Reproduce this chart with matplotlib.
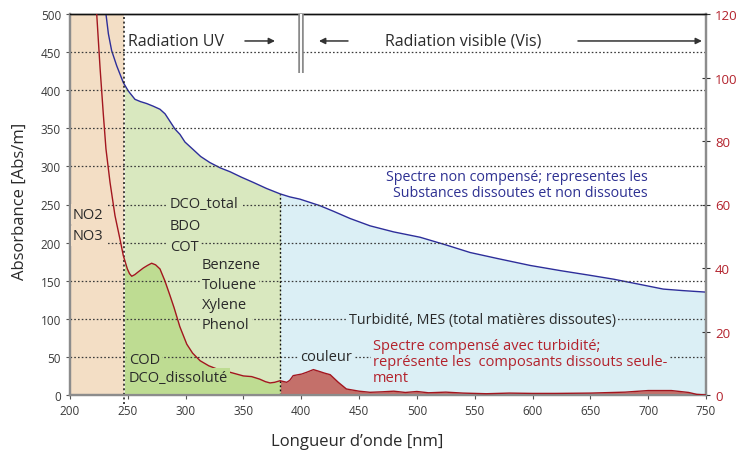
import matplotlib
matplotlib.use("Agg")
import matplotlib.pyplot as plt
import numpy as np

plt.rcParams['font.family'] = ['Open Sans', 'DejaVu Sans']

# ---------------- data ----------------
blue_nm = [231.1, 233.2, 236, 240.4, 246.1, 250.4, 256.2, 261, 266.3, 272, 277.8, 282.2,
           286.5, 290.8, 295.1, 299.4, 306.6, 313, 321, 330, 338.4, 348, 358.5, 370,
           381.6, 390, 398.9, 407, 416.2, 428, 442.1, 459.5, 480, 502.8, 525, 546, 570,
           598, 625, 650, 670, 690, 713, 730, 750]
blue_abs = [500, 474, 452, 432, 410, 399, 388, 385, 382.5, 379, 375, 369,
            359, 349, 342, 332, 322, 313, 305, 298, 293, 286, 279, 271,
            264, 260, 257, 253, 248.4, 241, 231.7, 222, 214, 207, 197, 187, 179,
            170, 163, 157, 152, 146, 139, 137, 135]

red_nm = [223.1, 226, 228.8, 231.1, 234.6, 238.9, 243.2, 246.1, 249.6, 251.5, 253.4, 256,
          259.1, 263.4, 267, 270.6, 274, 277.8, 282, 286.5, 290, 295, 301, 306, 312.5,
          320, 327, 335, 344, 350, 357, 364, 369, 373, 377, 381.7, 387.4, 390, 393,
          400.4, 405, 410.5, 415, 420, 425, 432, 439, 450, 459.5, 470, 480, 490, 500,
          510, 525, 540, 560, 580, 600, 620, 650, 680, 700, 720, 735, 742, 750]
red_abs = [120, 103, 88.5, 77.5, 67, 56.5, 49.1, 43.9, 39.7, 38.2, 37.4, 37.9,
           38.8, 40, 40.8, 41.5, 41, 39.7, 36, 31.3, 27.5, 21.5, 16, 13.2, 10.8,
           9.2, 8.2, 7.5, 6.6, 6.0, 5.8, 5.0, 4.2, 3.8, 4.0, 4.5, 4.0, 4.6, 6.1,
           6.6, 7.2, 8.0, 7.5, 6.9, 6.4, 4.0, 1.9, 1.2, 0.85, 1.0, 1.2, 0.8, 1.1,
           0.7, 0.9, 0.6, 0.4, 0.6, 0.5, 0.5, 0.6, 0.9, 1.4, 1.4, 0.8, 0.2, 0.0]

x_ticks = list(range(200, 751, 50))
left_ticks = list(range(0, 501, 50))
right_ticks = list(range(0, 121, 20))
uv_limit = 247
zone_limit = 382
vis_limit = 400

# ---------------- colours ----------------
c_beige = '#F3DEC5'
c_lgreen = '#D9E8BF'
c_dgreen = '#BEDC92'
c_lblue = '#DBEFF5'
c_dred = '#C4706A'
c_redline = '#A3161F'
c_blueline = '#2D2E9A'
c_txt = '#2A2A2A'
c_bluetxt = '#2E3192'
c_redtxt = '#B3222C'
c_grid = '#3A3A3A'

fig = plt.figure(figsize=(7.4, 4.56), dpi=100)
ax = fig.add_axes([70/740, 60/456, 636/740, 381/456])
ax2 = ax.twinx()
ax.set_xlim(200, 750)
ax.set_ylim(0, 500)
ax2.set_ylim(0, 120)

bn = np.array(blue_nm, float)
ba = np.array(blue_abs, float)
rn = np.array(red_nm, float)
ra = np.array(red_abs, float)

# beige UV zone
ax.fill_between([200, uv_limit], 0, 500, color=c_beige, lw=0, zorder=1)
# green zone under blue curve
gx = np.linspace(uv_limit, zone_limit, 200)
ax.fill_between(gx, 0, np.interp(gx, bn, ba), color=c_lgreen, lw=0, zorder=1)
bx = np.linspace(zone_limit, 750, 400)
ax.fill_between(bx, 0, np.interp(bx, bn, ba), color=c_lblue, lw=0, zorder=1)
ax.plot(bn, ba, color=c_blueline, lw=1.0, zorder=3)

# red fills on right axis
gx2 = np.linspace(uv_limit, zone_limit, 300)
ax2.fill_between(gx2, 0, np.interp(gx2, rn, ra), color=c_dgreen, lw=0, zorder=1)
rx2 = np.linspace(zone_limit, 750, 500)
ax2.fill_between(rx2, 0, np.interp(rx2, rn, ra), color=c_dred, lw=0, zorder=1)
ax2.plot(rn, ra, color=c_redline, lw=1.0, zorder=3)

T = ax.transData
# grid lines (left units)
for v in left_ticks[1:-1]:
    ax2.plot([200, 750], [v, v], transform=T, color=c_grid, lw=0.9,
             ls=(0, (1.3, 1.7)), zorder=2)
# vertical dotted lines
ax2.plot([uv_limit, uv_limit], [-12, 500], transform=T, color='#111111', lw=1.1,
         ls=(0, (1.3, 1.7)), zorder=2.5, clip_on=False)
ax2.plot([zone_limit, zone_limit], [0, np.interp(zone_limit, bn, ba)], transform=T,
         color='#111111', lw=1.0, ls=(0, (1.3, 1.7)), zorder=2.5)
# double line UV / Vis
ax2.plot([vis_limit, vis_limit], [500, 423], transform=T, color='#8A8A8A', lw=4.0,
         zorder=3, solid_capstyle='butt')
ax2.plot([vis_limit, vis_limit], [500, 423], transform=T, color='white', lw=1.4,
         zorder=3.1, solid_capstyle='butt')

def txt(x, y, s, color=c_txt, fc=None, size=11, **kw):
    bb = dict(facecolor=fc, edgecolor='none', pad=1.5) if fc else None
    ax2.text(x, y, s, transform=T, color=color, fontsize=size, va='center',
             ha=kw.pop('ha', 'left'), bbox=bb, zorder=5, **kw)

txt(250.2, 464.6, 'Radiation UV', fc='white', size=11.5)
txt(472.4, 464.6, 'Radiation visible (Vis)', fc='white', size=11.5)
arrow = dict(arrowstyle='-|>', color='#333333', lw=1.1, mutation_scale=9, shrinkA=0, shrinkB=0)
ax2.annotate('', xy=(377.3, 464.6), xytext=(351.3, 464.6), xycoords=T, textcoords=T,
             arrowprops=arrow, zorder=5)
ax2.annotate('', xy=(415.3, 464.6), xytext=(440.4, 464.6), xycoords=T, textcoords=T,
             arrowprops=arrow, zorder=5)
ax2.annotate('', xy=(746.5, 464.6), xytext=(639.3, 464.6), xycoords=T, textcoords=T,
             arrowprops=arrow, zorder=5)

txt(202.6, 237.5, 'NO2', fc=c_beige, size=10.5)
txt(202.6, 208.7, 'NO3', fc=c_beige, size=10.5)
for yy, s in zip([250.7, 223.0, 195.5], ['DCO_total', 'BDO', 'COT']):
    txt(286.5, yy, s, fc=c_lgreen, size=10.5)
for yy, s in zip([171, 144.8, 118.5, 91.9], ['Benzene', 'Toluene', 'Xylene', 'Phenol']):
    txt(314.2, yy, s, fc=c_lgreen, size=10.5)
txt(251, 47.2, 'COD', fc=c_dgreen, size=10.5)
txt(251, 23.2, 'DCO_dissoluté', fc=c_dgreen, size=10.5)
txt(399, 50.3, 'couleur', fc=c_lblue, size=10.5)
txt(441.3, 99.7, 'Turbidité, MES (total matières dissoutes)', fc=c_lblue, size=10.3)
txt(699.8, 276, 'Spectre non compensé; representes les\nSubstances dissoutes et non dissoutes',
    color=c_bluetxt, size=10.3, ha='right', multialignment='right', linespacing=1.1)
txt(462, 44, 'Spectre compensé avec turbidité;\nreprésente les  composants dissouts seule-\nment',
    color=c_redtxt, fc=c_lblue, size=10.5, linespacing=1.1)

# axes styling
ax.set_xticks(x_ticks)
ax.set_yticks(left_ticks)
ax2.set_yticks(right_ticks)
ax.tick_params(axis='both', labelsize=8.5, labelcolor='#3A3A3A', color='#555555',
               length=3, width=0.8, direction='out')
ax2.tick_params(axis='y', labelsize=9.5, labelcolor=c_redtxt, color='#333333',
                length=6, width=0.8, direction='inout')
for a in (ax, ax2):
    a.spines['left'].set_color('#8C8C8C')
    a.spines['left'].set_linewidth(1.6)
    a.spines['bottom'].set_color('#8C8C8C')
    a.spines['bottom'].set_linewidth(1.6)
    a.spines['right'].set_color('#8C8C8C')
    a.spines['right'].set_linewidth(1.6)
    a.spines['top'].set_color('#111111')
    a.spines['top'].set_linewidth(1.0)
ax.set_ylabel('Absorbance [Abs/m]', fontsize=12, color=c_txt)
ax.yaxis.set_label_coords(-0.066, 0.51)
ax.set_xlabel("Longueur d’onde [nm]", fontsize=12, color=c_txt)
ax.xaxis.set_label_coords(0.452, -0.1)

fig.savefig('out.png', dpi=100)
